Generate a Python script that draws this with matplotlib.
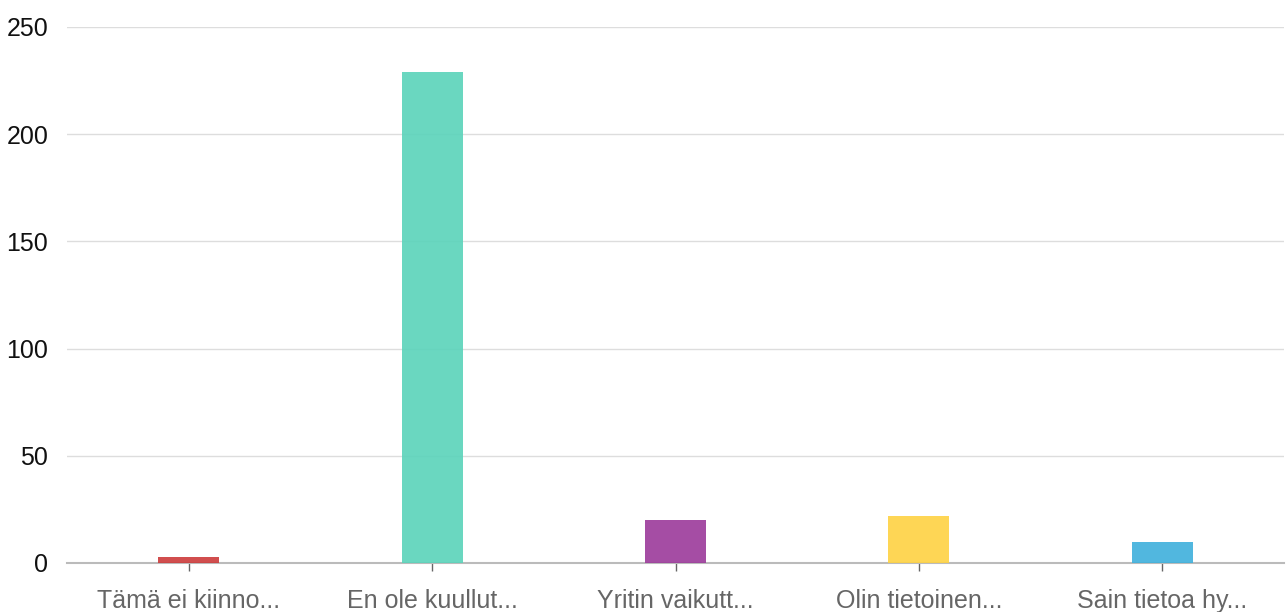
import matplotlib
matplotlib.use("Agg")
import matplotlib.pyplot as plt

categories = ["Tämä ei kiinno...", "En ole kuullut...", "Yritin vaikutt...", "Olin tietoinen...", "Sain tietoa hy..."]
values = [3, 229, 20, 22, 10]
colors = ["#cc3b3b", "#5ad3ba", "#9b3a9a", "#fed242", "#3eb0dc"]
yticks = [0, 50, 100, 150, 200, 250]

plt.rcParams['font.family'] = ['Liberation Sans', 'DejaVu Sans']
fig = plt.figure(figsize=(12.86, 6.12), dpi=100)
ax = fig.add_axes([67/1286, 1 - 563/612, (1284 - 67)/1286, (563 - 27)/612])

x = list(range(len(categories)))
ax.bar(x, values, width=0.25, color=colors, alpha=0.9, zorder=3)
ax.set_xlim(-0.5, len(categories) - 0.5)
ax.set_ylim(0, 250)
ax.set_yticks(yticks)
ax.set_yticklabels([str(v) for v in yticks], fontsize=18, color="#111111")
ax.set_xticks(x)
ax.set_xticklabels(categories, fontsize=18, color="#666666")
ax.grid(axis="y", color="#dddddd", linewidth=1, zorder=0)
for s in ["top", "right", "left"]:
    ax.spines[s].set_visible(False)
ax.spines["bottom"].set_color("#bbbbbb")
ax.spines["bottom"].set_linewidth(1.5)
ax.spines["bottom"].set_zorder(2)
ax.tick_params(axis="y", length=0, pad=13.5)
ax.tick_params(axis="x", length=6, color="#666666", width=1, pad=13)
fig.savefig("out.png", dpi=100)
